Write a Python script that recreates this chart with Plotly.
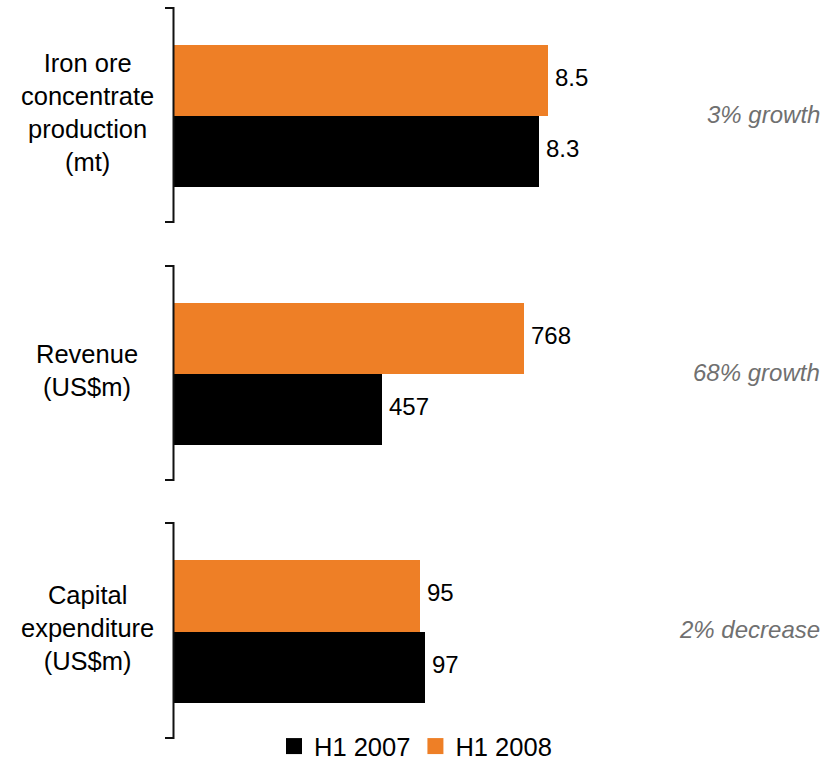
import plotly.graph_objects as go

# Data
metrics = ["Iron ore<br>concentrate<br>production<br>(mt)", "Revenue<br>(US$m)", "Capital<br>expenditure<br>(US$m)"]
h1_2007 = [8.3, 457, 97]
h1_2008 = [8.5, 768, 95]
value_text_2007 = ["8.3", "457", "97"]
value_text_2008 = ["8.5", "768", "95"]
changes = ["3% growth", "68% growth", "2% decrease"]
x_max = [10.82, 1044, 184]
series_names = ["H1 2007", "H1 2008"]

W, H = 831, 770
BLACK = "#000000"
ORANGE = "#EE7F26"
FONT = "Liberation Sans, Arial, sans-serif"

# Panel placement in pixels (top, bottom) and plot area left/right
panels_px = [(8, 222), (266, 480), (523, 738)]
x_left, x_right = 174, 650

fig = go.Figure()
shapes = []
annotations = []

for i, (top, bot) in enumerate(panels_px):
    n = "" if i == 0 else str(i + 1)
    xa, ya = "x" + n, "y" + n
    cat = f"m{i}"
    fig.add_trace(go.Bar(
        x=[h1_2007[i]], y=[cat], orientation="h", name=series_names[0],
        marker=dict(color=BLACK, line=dict(width=0)), xaxis=xa, yaxis=ya,
        legendgroup="a", showlegend=False, hoverinfo="skip"))
    fig.add_trace(go.Bar(
        x=[h1_2008[i]], y=[cat], orientation="h", name=series_names[1],
        marker=dict(color=ORANGE, line=dict(width=0)), xaxis=xa, yaxis=ya,
        legendgroup="b", showlegend=False, hoverinfo="skip"))

    dom = [1 - bot / H, 1 - top / H]
    fig.update_layout(**{
        ("xaxis" + n): dict(domain=[x_left / W, x_right / W], range=[0, x_max[i]],
                            visible=False, fixedrange=True),
        ("yaxis" + n): dict(domain=dom, range=[-0.746, 0.761], showticklabels=False,
                            showgrid=False, zeroline=False, showline=False,
                            ticks="", fixedrange=True),
    })

    # bracket on the left of each panel
    shapes.append(dict(
        type="path", xref="paper", yref=ya + " domain",
        path=f"M {165 / W},1 L {173.5 / W},1 L {173.5 / W},0 L {165 / W},0",
        line=dict(color="#111111", width=2)))

    # value labels at bar ends
    annotations.append(dict(x=h1_2007[i], y=-0.25, xref=xa, yref=ya, text=value_text_2007[i],
                            showarrow=False, xanchor="left", xshift=5, yshift=3,
                            font=dict(family=FONT, size=24, color="#000000")))
    annotations.append(dict(x=h1_2008[i], y=0.25, xref=xa, yref=ya, text=value_text_2008[i],
                            showarrow=False, xanchor="left", xshift=5, yshift=3,
                            font=dict(family=FONT, size=24, color="#000000")))

    # category label
    annotations.append(dict(x=87 / W, y=0, xref="paper", yref=ya, text=metrics[i],
                            showarrow=False, xanchor="center", align="center", yshift=4,
                            font=dict(family=FONT, size=25.5, color="#000000")))

    # change label on the right
    annotations.append(dict(x=822 / W, y=0, xref="paper", yref=ya,
                            text=f"<i>{changes[i]}</i>",
                            showarrow=False, xanchor="right", yshift=2,
                            font=dict(family=FONT, size=24, color="#707070")))

# legend entries
fig.add_trace(go.Scatter(x=[None], y=[None], mode="markers", name=series_names[0],
                         marker=dict(symbol="square", size=18, color=BLACK),
                         legendgroup="a", showlegend=True))
fig.add_trace(go.Scatter(x=[None], y=[None], mode="markers", name=series_names[1],
                         marker=dict(symbol="square", size=18, color=ORANGE),
                         legendgroup="b", showlegend=True))

fig.update_layout(
    width=W, height=H,
    margin=dict(l=0, r=0, t=0, b=0),
    paper_bgcolor="white", plot_bgcolor="white",
    barmode="group", bargap=0, bargroupgap=0,
    showlegend=True,
    legend=dict(orientation="h", x=0.5, xanchor="center", y=0, yanchor="bottom",
                font=dict(family=FONT, size=25.5, color="#000000"),
                itemsizing="trace", tracegroupgap=0, itemwidth=30,
                bgcolor="rgba(0,0,0,0)"),
    shapes=shapes,
    annotations=annotations,
    font=dict(family=FONT),
)

fig.write_html("out.html")
